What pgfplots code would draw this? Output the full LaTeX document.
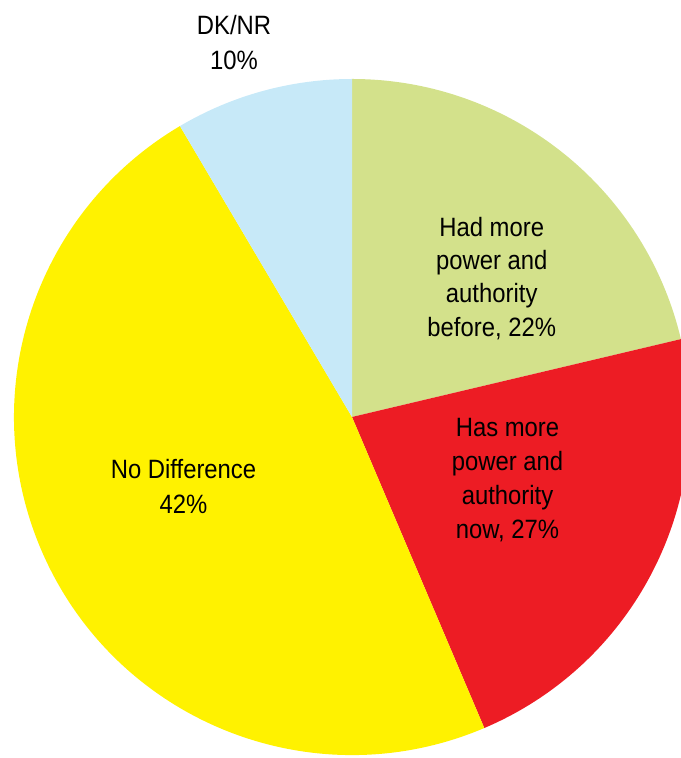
\documentclass[border=0pt]{standalone}
\usepackage{fontspec}
\setmainfont[FakeStretch=0.9]{Liberation Sans}
\usepackage{pgfplots}
\usepackage{pgfplotstable}
\pgfplotsset{compat=1.18}

\definecolor{pgreen}{HTML}{D3E18B}
\definecolor{pred}{HTML}{ED1C24}
\definecolor{pyellow}{HTML}{FFF200}
\definecolor{pblue}{HTML}{C7E9F8}

% slice shares as drawn (clockwise from 12 o'clock)
\pgfplotstableread{
share
21.3
22.3
47.9
8.5
}\piedata

\begin{document}
\begin{tikzpicture}[lbl/.style={anchor=base,inner sep=0pt,font=\fontsize{26.5bp}{33bp}\selectfont}]
\pgfplotstablegetelem{0}{share}\of\piedata\let\vA\pgfplotsretval
\pgfplotstablegetelem{1}{share}\of\piedata\let\vB\pgfplotsretval
\pgfplotstablegetelem{2}{share}\of\piedata\let\vC\pgfplotsretval
\pgfplotstablegetelem{3}{share}\of\piedata\let\vD\pgfplotsretval
\pgfmathsetmacro\eA{90-3.6*\vA}
\pgfmathsetmacro\eB{\eA-3.6*\vB}
\pgfmathsetmacro\eC{\eB-3.6*\vC}
\pgfmathsetmacro\eD{\eC-3.6*\vD}
\useasboundingbox (0,0) rectangle (681bp,758bp);
\begin{axis}[
  scale only axis,
  width=681bp, height=758bp,
  xmin=0, xmax=681, ymin=0, ymax=758,
  hide axis, clip=false,
  at={(0,0)}, anchor=south west,
]
  \fill[pgreen] (axis cs:352,341) -- ([shift={(90:338bp)}]axis cs:352,341)
    arc[start angle=90, end angle=\eA, radius=338bp] -- cycle;
  \fill[pred] (axis cs:352,341) -- ([shift={(\eA:338bp)}]axis cs:352,341)
    arc[start angle=\eA, end angle=\eB, radius=338bp] -- cycle;
  \fill[pyellow] (axis cs:352,341) -- ([shift={(\eB:338bp)}]axis cs:352,341)
    arc[start angle=\eB, end angle=\eC, radius=338bp] -- cycle;
  \fill[pblue] (axis cs:352,341) -- ([shift={(\eC:338bp)}]axis cs:352,341)
    arc[start angle=\eC, end angle=\eD, radius=338bp] -- cycle;

  \node[lbl] at (axis cs:234,723) {DK/NR};
  \node[lbl] at (axis cs:234,688) {10\%};

  \node[lbl] at (axis cs:491.7,521) {Had more};
  \node[lbl] at (axis cs:491.7,488) {power and};
  \node[lbl] at (axis cs:491.7,455) {authority};
  \node[lbl] at (axis cs:491.7,421.5) {before, 22\%};

  \node[lbl] at (axis cs:507.5,321.3) {Has more};
  \node[lbl] at (axis cs:507.5,287.5) {power and};
  \node[lbl] at (axis cs:507.5,253.6) {authority};
  \node[lbl] at (axis cs:507.5,219.7) {now, 27\%};

  \node[lbl] at (axis cs:183.5,279.7) {No Difference};
  \node[lbl] at (axis cs:183.5,244.7) {42\%};
\end{axis}
\end{tikzpicture}
\end{document}
